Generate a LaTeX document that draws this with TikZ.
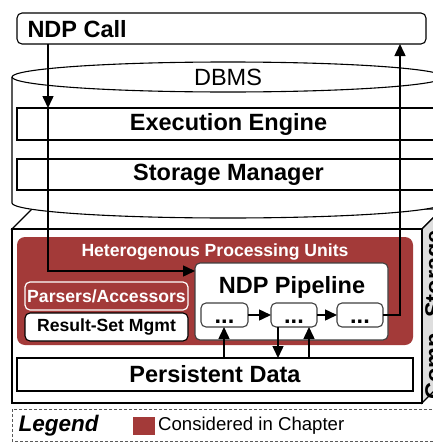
\documentclass[tikz,border=0pt]{standalone}
\usepackage{fontspec}
\setmainfont{Liberation Sans}
\usetikzlibrary{arrows.meta,shapes.geometric}
\definecolor{hpured}{RGB}{163,58,57}
\definecolor{facegrey}{RGB}{222,222,222}
\begin{document}
\begin{tikzpicture}[x=1pt,y=-1pt,
  bigfont/.style={font=\fontsize{23.5}{28}\selectfont\bfseries},
  midfont/.style={font=\fontsize{17.6}{21}\selectfont\bfseries},
  frame/.style={draw=black,line width=1.1pt,inner sep=0pt,outer sep=0pt,anchor=north west},
  layer/.style={frame,fill=white,bigfont},
  rbox/.style={frame,rounded corners=5pt},
  dotbox/.style={rbox,fill=white,draw=black!75,bigfont,text height=16pt,text depth=0pt},
  arr/.style={line width=1.5pt,-{Triangle[length=12pt,width=11pt]}}]
\useasboundingbox (0,0) rectangle (433,442);
\clip (0,0) rectangle (433,442);

% computational storage box
\draw[line width=1.1pt,fill=white] (12,229) -- (32,209) -- (442,209) -- (422,229) -- cycle;
\draw[line width=1.1pt,fill=facegrey] (422,229) -- (442,209) -- (442,383) -- (422,403) -- cycle;
\node[frame,fill=white,minimum width=410,minimum height=174] (front) at (12,229) {};
\node[bigfont,rotate=90] (comp) at (436,315) {Comp. Storage};

% DBMS cylinder
\fill[white] (12,77) -- (12,203) arc[start angle=180,end angle=360,x radius=216pt,y radius=15pt] -- (444,77) -- cycle;
\draw[line width=1.1pt] (12,77) -- (12,203) arc[start angle=180,end angle=360,x radius=216pt,y radius=15pt] -- (444,77);
\node[ellipse,draw=black,line width=1.1pt,fill=white,minimum width=432,minimum height=30,inner sep=0pt,
      font=\fontsize{23.5}{28}\selectfont] (dbms) at (228,77) {DBMS};
\node[layer,minimum width=423,minimum height=32] (ee) at (17,108) {};
\node[bigfont] at (ee.center) {Execution Engine};
\node[layer,minimum width=423,minimum height=31] (sm) at (17,159) {};
\node[bigfont] at (sm.center) {Storage Manager};

% NDP call
\node[rbox,fill=white,minimum width=409,minimum height=31] (call) at (17,13) {};
\node[bigfont,anchor=west] (calltxt) at (24,29) {NDP Call};

% heterogeneous processing units
\node[frame,draw=none,fill=hpured,rounded corners=8pt,minimum width=396,minimum height=108] (hpu) at (17,237) {};
\node[midfont,text=white] (hputxt) at (215,252) {Heterogenous Processing Units};
\node[rbox,fill=hpured,draw=white,line width=1.2pt,minimum width=163,minimum height=28] (pa) at (25,282) {};
\node[midfont,text=white] at (pa.center) {Parsers/Accessors};
\node[rbox,fill=white,minimum width=163,minimum height=28] (rs) at (25,313) {};
\node[midfont] at (rs.center) {Result-Set Mgmt};
\node[rbox,fill=white,draw=black!75,minimum width=193,minimum height=77] (pipe) at (195,263) {};
\node[bigfont] (pipetxt) at (292,287) {NDP Pipeline};
\node[dotbox,minimum width=47,minimum height=24] (d1) at (201,303) {...};
\node[dotbox,minimum width=46,minimum height=24] (d2) at (271,303) {...};
\node[dotbox,minimum width=46,minimum height=24] (d3) at (337,303) {...};

% persistent data
\node[layer,minimum width=396,minimum height=33] (pd) at (17,358) {};
\node[bigfont] at (pd.center) {Persistent Data};

% connectors
\draw[arr] (call.south -| 48,0) -- (ee.north -| 48,0);
\draw[arr] (ee.north -| 48,0) -- (48,271) -- (pipe.west |- 0,271);
\draw[arr] (d3.east) -- (400,315) -- (call.south -| 400,0);
\draw[arr] (d1.east) -- (d2.west);
\draw[arr] (d2.east) -- (d3.west);
\draw[arr] (pd.north -| 224,0) -- (d1.south -| 224,0);
\draw[arr] (d2.south -| 278,0) -- (pd.north -| 278,0);
\draw[arr] (pd.north -| 309,0) -- (d2.south -| 309,0);

% legend
\draw[draw=black!65,line width=1pt,dash pattern=on 3pt off 2pt] (12,409) rectangle (445,441);
\node[anchor=west,font=\fontsize{22.5}{27}\selectfont\bfseries\itshape] (leg) at (15,426) {Legend};
\node[fill=hpured,minimum width=22,minimum height=18,inner sep=0pt,anchor=north west] (sq) at (133,417) {};
\node[anchor=west,font=\fontsize{18.6}{22}\selectfont,inner sep=1pt] (legtxt) at (157,426) {Considered in Chapter};
\end{tikzpicture}
\end{document}
